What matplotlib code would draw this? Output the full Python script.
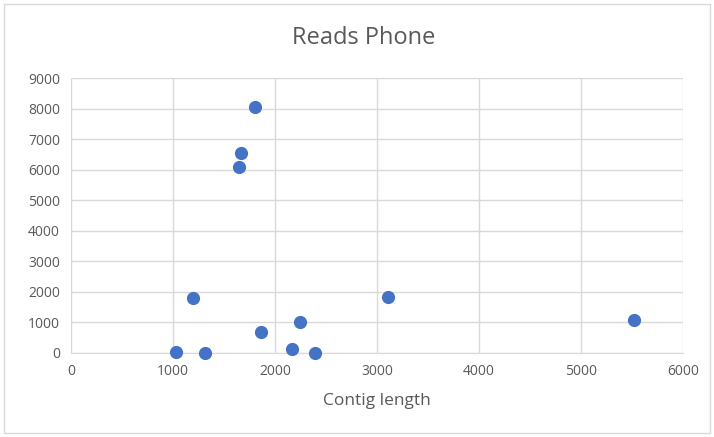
import matplotlib.pyplot as plt
from matplotlib.patches import Rectangle

contig_length = [1029, 1314, 1196, 1647, 1667, 1804, 1863, 2167, 2245, 2392, 3108, 5520]
reads_phone = [20, 10, 1800, 6087, 6545, 8050, 687, 131, 1014, 10, 1832, 1080]

plt.rcParams["font.family"] = ["Open Sans", "DejaVu Sans"]

fig = plt.figure(figsize=(7.14, 4.37), dpi=100)
ax = fig.add_axes([71 / 714, 1 - 353 / 437, 612 / 714, 275 / 437])

fig.patches.append(Rectangle((4 / 714, 4 / 437), 706 / 714, 429 / 437,
                             transform=fig.transFigure, fill=False,
                             edgecolor="#D9D9D9", linewidth=1))

ax.scatter(contig_length, reads_phone, s=72, color="#4472C4", zorder=3,
           clip_on=False)

ax.set_xlim(0, 6000)
ax.set_ylim(0, 9000)
ax.set_xticks(range(0, 6001, 1000))
ax.set_yticks(range(0, 9001, 1000))
ax.grid(True, color="#D9D9D9", linewidth=1)
ax.set_axisbelow(True)
for side in ["top", "right", "left"]:
    ax.spines[side].set_visible(False)
ax.spines["bottom"].set_color("#D9D9D9")
ax.tick_params(length=0, labelsize=10, colors="#595959", pad=8)

ax.set_xlabel("Contig length", fontsize=12.5, color="#595959", labelpad=10)
fig.text(0.51, 1 - 38 / 437, "Reads Phone", ha="center", va="center",
         fontsize=17, color="#595959")

fig.savefig("out.png", dpi=100)
